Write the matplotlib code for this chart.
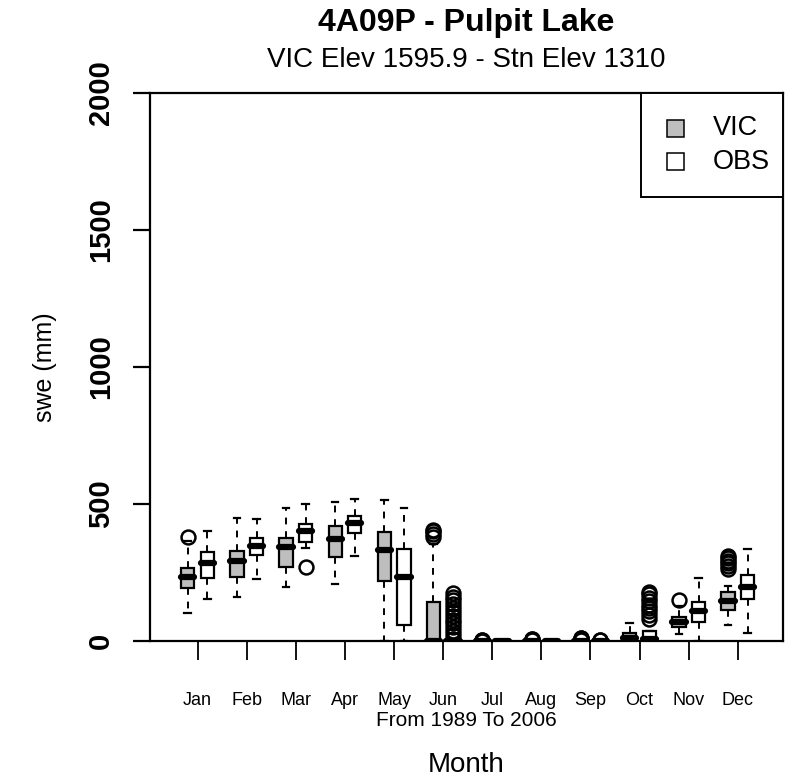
import matplotlib
matplotlib.use("Agg")
import matplotlib.pyplot as plt
from matplotlib.patches import Rectangle

plt.rcParams['font.family'] = ['Liberation Sans', 'DejaVu Sans']

# ==============================
# Datos
# ==============================

months = ["Jan", "Feb", "Mar", "Apr", "May", "Jun",
          "Jul", "Aug", "Sep", "Oct", "Nov", "Dec"]

# VIC: q1, mediana, q3, bigote inferior, bigote superior
vic_q1 = [192, 235, 271, 305, 220, 0, 0, 0, 0, 0, 52, 113]
vic_med = [233, 293, 342, 372, 332, 0, 0, 0, 0, 12, 68, 147]
vic_q3 = [265, 330, 377, 420, 399, 144, 0, 0, 0, 30, 89, 180]
vic_lo = [103, 162, 196, 208, 0, 0, 0, 0, 0, 0, 25, 58]
vic_hi = [365, 448, 484, 508, 514, 355, 0, 0, 0, 64, 128, 200]
vic_out = [[380], [], [], [], [], [380, 392, 400, 406],
           [1, 3, 5], [3, 6, 9], [4, 7, 10, 12], [], [150],
           [262, 272, 283, 293, 302, 312]]

# OBS
obs_q1 = [230, 313, 362, 393, 58, 0, 0, 0, 0, 0, 71, 152]
obs_med = [284, 345, 401, 429, 235, 0, 0, 0, 0, 8, 110, 198]
obs_q3 = [324, 377, 427, 456, 336, 0, 0, 0, 0, 38, 144, 241]
obs_lo = [152, 226, 340, 311, 0, 0, 0, 0, 0, 0, 0, 28]
obs_hi = [403, 444, 500, 517, 484, 0, 0, 0, 0, 38, 231, 335]
obs_out = [[], [], [270], [], [],
           [8, 22, 36, 50, 64, 78, 92, 106, 120, 134, 148, 162, 175],
           [], [], [2, 4], [82, 95, 108, 120, 132, 145, 158, 170, 180], [], []]

series = ["VIC", "OBS"]
colors = ["#bebebe", "white"]


def make_stats(q1, med, q3, lo, hi, out):
    stats = []
    for i in range(len(q1)):
        stats.append({"q1": q1[i], "med": med[i], "q3": q3[i],
                      "whislo": lo[i], "whishi": hi[i], "fliers": out[i]})
    return stats


# ==============================
# Grafica
# ==============================

fig = plt.figure(figsize=(8.03, 7.80), dpi=100)
ax = fig.add_axes([150 / 803, (780 - 641) / 780, 633 / 803, 548 / 780])

pos = list(range(1, 13))
common = dict(
    widths=0.27,
    boxprops=dict(linewidth=1.6, edgecolor="black"),
    whiskerprops=dict(linewidth=1.4, linestyle=(0, (3.5, 3.5)), color="black"),
    capprops=dict(linewidth=1.6, color="black"),
    medianprops=dict(linewidth=4.5, color="black", solid_capstyle="round"),
    flierprops=dict(marker="o", markersize=10, markerfacecolor="none",
                    markeredgecolor="black", markeredgewidth=1.8),
    patch_artist=True,
    manage_ticks=False,
)

b1 = ax.bxp(make_stats(vic_q1, vic_med, vic_q3, vic_lo, vic_hi, vic_out),
            positions=[p - 0.2 for p in pos], **common)
b2 = ax.bxp(make_stats(obs_q1, obs_med, obs_q3, obs_lo, obs_hi, obs_out),
            positions=[p + 0.2 for p in pos], **common)
for b in b1["boxes"]:
    b.set_facecolor(colors[0])
for b in b2["boxes"]:
    b.set_facecolor(colors[1])

ax.set_xlim(0.03, 12.92)
ax.set_ylim(0, 2000)

for s in ax.spines.values():
    s.set_linewidth(1.6)

ax.set_xticks(pos)
ax.set_xticklabels(months, fontsize=13)
ax.tick_params(axis="x", length=14, width=1.3, pad=23)
ax.set_yticks([0, 500, 1000, 1500, 2000])
ax.set_yticklabels(["0", "500", "1000", "1500", "2000"], fontsize=21,
                   fontweight="bold", rotation=90, va="center")
ax.tick_params(axis="y", length=12, width=1.6, pad=13)

ax.set_ylabel("swe (mm)", fontsize=18, labelpad=22)

cx = 0.5 * (150 + 783) / 803
fig.text(cx, 1 - 720 / 780, "From 1989 To 2006",
         fontsize=15, ha="center", va="center")
fig.text(cx, 1 - 765 / 780, "Month",
         fontsize=20, ha="center", va="center")
fig.text(cx, 1 - 23 / 780, "4A09P - Pulpit Lake",
         fontsize=23, fontweight="bold", ha="center", va="center")
fig.text(cx, 1 - 60 / 780, "VIC Elev 1595.9 - Stn Elev 1310",
         fontsize=20, ha="center", va="center")

# leyenda dibujada a mano, estilo R
ax.add_patch(Rectangle((0.7757, 0.8102), 1 - 0.7757, 1 - 0.8102,
                       transform=ax.transAxes, facecolor="white",
                       edgecolor="black", linewidth=1.4, clip_on=False, zorder=5))
sq_w, sq_h = 17 / 633, 17 / 548
for k, yc in enumerate([0.9361, 0.8741]):
    ax.add_patch(Rectangle((0.8294 - sq_w / 2, yc - sq_h / 2), sq_w, sq_h,
                           transform=ax.transAxes, facecolor=colors[k],
                           edgecolor="black", linewidth=1.1, zorder=6))
    ax.text(0.8894, yc, series[k], transform=ax.transAxes, fontsize=19.5,
            ha="left", va="center", zorder=6)

plt.savefig("out.png", dpi=100)
plt.close()
